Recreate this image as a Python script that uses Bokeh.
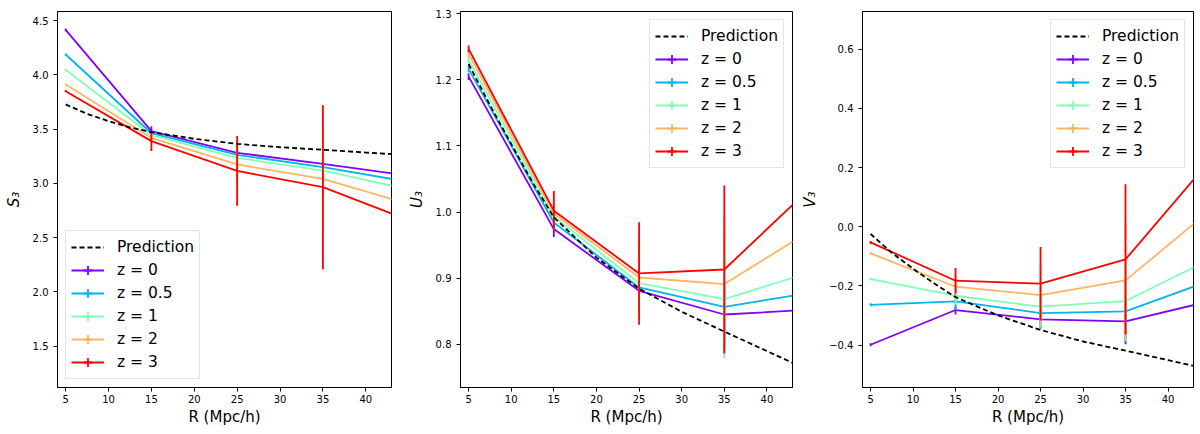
import numpy as np
from bokeh.plotting import figure
from bokeh.layouts import row
from bokeh.models import Range1d, FixedTicker, Legend, LegendItem, ColumnDataSource
from bokeh.embed import file_html
from bokeh.resources import INLINE

# ---------------- data ----------------
R = [5, 15, 25, 35, 45]
z_labels = ["z = 0", "z = 0.5", "z = 1", "z = 2", "z = 3"]
colors = ["#8000ff", "#00b5eb", "#80ffb4", "#ffb461", "#ff0000"]

# S3 (left panel), one list per redshift
S3 = [
    [4.414, 3.481, 3.281, 3.180, 3.071],
    [4.187, 3.462, 3.263, 3.149, 3.014],
    [4.046, 3.444, 3.235, 3.118, 2.944],
    [3.911, 3.420, 3.174, 3.042, 2.810],
    [3.849, 3.389, 3.115, 2.965, 2.662],
]
S3_err = [
    [0.012, 0.045, 0.05, 0.10, 0.15],
    [0.010, 0.020, 0.08, 0.15, 0.25],
    [0.010, 0.020, 0.12, 0.25, 0.35],
    [0.010, 0.030, 0.20, 0.45, 0.60],
    [0.010, 0.090, 0.322, 0.755, 1.00],
]

# U3 (middle panel)
U3 = [
    [1.205, 0.9742, 0.8808, 0.8449, 0.852],
    [1.2167, 0.9842, 0.8858, 0.8565, 0.8776],
    [1.2303, 0.9933, 0.8924, 0.8682, 0.9085],
    [1.2394, 0.9979, 0.9009, 0.8909, 0.9708],
    [1.247, 1.002, 0.9070, 0.9130, 1.035],
]
U3_err = [
    [0.005, 0.012, 0.03, 0.05, 0.10],
    [0.005, 0.010, 0.04, 0.07, 0.12],
    [0.005, 0.010, 0.05, 0.09, 0.15],
    [0.005, 0.015, 0.06, 0.10, 0.20],
    [0.005, 0.030, 0.0775, 0.127, 0.25],
]

# V3 (right panel)
V3 = [
    [-0.399, -0.2816, -0.3134, -0.3202, -0.251],
    [-0.264, -0.2525, -0.2918, -0.2863, -0.182],
    [-0.177, -0.2333, -0.2704, -0.2512, -0.109],
    [-0.090, -0.2028, -0.2310, -0.1815, 0.057],
    [-0.053, -0.1825, -0.1926, -0.1104, 0.2266],
]
V3_err = [
    [0.005, 0.015, 0.03, 0.077, 0.10],
    [0.005, 0.030, 0.053, 0.105, 0.15],
    [0.005, 0.030, 0.07, 0.135, 0.20],
    [0.005, 0.035, 0.10, 0.195, 0.30],
    [0.005, 0.043, 0.124, 0.254, 0.40],
]

# Prediction curves
pred_R = [5, 7.5, 10, 12.5, 15, 20, 25, 30, 35, 40, 45]
S3_pred = [3.727, 3.640, 3.573, 3.515, 3.472, 3.410, 3.364, 3.333, 3.309, 3.284, 3.259]
U3_pred = [1.224, 1.162, 1.103, 1.045, 0.992, 0.931, 0.884, 0.849, 0.819, 0.7895, 0.760]
V3_pred = [-0.0245, -0.088, -0.142, -0.192, -0.238, -0.300, -0.349, -0.388, -0.419, -0.451, -0.483]

# ticks
x_ticks = [5, 10, 15, 20, 25, 30, 35, 40]
S3_ticks = [1.5, 2.0, 2.5, 3.0, 3.5, 4.0, 4.5]
S3_tick_labels = ["1.5", "2.0", "2.5", "3.0", "3.5", "4.0", "4.5"]
U3_ticks = [0.8, 0.9, 1.0, 1.1, 1.2, 1.3]
U3_tick_labels = ["0.8", "0.9", "1.0", "1.1", "1.2", "1.3"]
V3_ticks = [-0.4, -0.2, 0.0, 0.2, 0.4, 0.6]
V3_tick_labels = ["\u22120.4", "\u22120.2", "0.0", "0.2", "0.4", "0.6"]

FONT = "DejaVu Sans"
LW = 1.8


def make_panel(vals, errs, pred, ylabel, yrange, yticks, ylabels, legend_loc,
               width, bl, br):
    p = figure(width=width, height=430, output_backend="svg", toolbar_location=None,
               x_range=Range1d(4.05, 43.0), y_range=Range1d(*yrange),
               min_border_left=bl, min_border_right=br, min_border_top=11,
               min_border_bottom=43, background_fill_color="white",
               border_fill_color="white")
    p.grid.visible = False
    p.outline_line_color = "black"
    p.outline_line_alpha = 1.0
    p.outline_line_width = 1

    for ax in (p.xaxis[0], p.yaxis[0]):
        ax.axis_line_color = "black"
        ax.major_tick_line_color = "black"
        ax.major_tick_in = 0
        ax.major_tick_out = 4
        ax.minor_tick_in = 0
        ax.minor_tick_out = 0
        ax.major_label_text_font = FONT
        ax.major_label_text_font_size = "10px"
        ax.major_label_text_color = "black"
        ax.axis_label_text_font = FONT
        ax.axis_label_text_font_size = "15px"
        ax.axis_label_text_color = "black"

    p.xaxis.ticker = FixedTicker(ticks=x_ticks)
    p.xaxis.axis_label = "R (Mpc/h)"
    p.xaxis.axis_label_text_font_style = "normal"
    p.xaxis.major_label_standoff = 3
    p.xaxis.axis_label_standoff = 2

    p.yaxis.ticker = FixedTicker(ticks=yticks)
    p.yaxis.major_label_overrides = dict(zip(yticks, ylabels))
    p.yaxis.axis_label = ylabel
    p.yaxis.axis_label_text_font_style = "italic"
    p.yaxis.major_label_standoff = 5
    p.yaxis.axis_label_standoff = 7

    items = []
    for k in range(len(vals)):
        c = colors[k]
        lo = [v - e for v, e in zip(vals[k], errs[k])]
        hi = [v + e for v, e in zip(vals[k], errs[k])]
        src = ColumnDataSource(dict(x=R, y=vals[k], lo=lo, hi=hi))
        ln = p.line("x", "y", source=src, line_color=c, line_width=LW)
        p.segment(x0="x", y0="lo", x1="x", y1="hi", source=src,
                  line_color=c, line_width=LW)
        mk = p.scatter(x=[np.nan], y=[np.nan], marker="cross", size=16,
                       line_color=c, line_width=LW)
        items.append(LegendItem(label=z_labels[k], renderers=[ln, mk]))

    pl = p.line(pred_R, pred, line_color="black", line_dash="5 3", line_width=LW)

    legend = Legend(items=[LegendItem(label="Prediction", renderers=[pl])] + items,
                    location=legend_loc)
    legend.label_text_font = FONT
    legend.label_text_font_size = "15.5px"
    legend.label_text_color = "black"
    legend.label_height = 20
    legend.glyph_height = 22
    legend.glyph_width = 33
    legend.label_standoff = 13
    legend.spacing = 1
    legend.padding = 5
    legend.margin = 8
    legend.border_line_color = "#cccccc"
    legend.border_line_width = 1
    legend.background_fill_alpha = 0.8
    p.add_layout(legend)
    return p


p1 = make_panel(S3, S3_err, S3_pred, "S\u2083", (1.12, 4.583), S3_ticks, S3_tick_labels,
                "bottom_left", 404, 57, 13)
p2 = make_panel(U3, U3_err, U3_pred, "U\u2083", (0.7344, 1.3035), U3_ticks, U3_tick_labels,
                "top_right", 394, 54, 6)
p3 = make_panel(V3, V3_err, V3_pred, "V\u2083", (-0.5435, 0.7276), V3_ticks, V3_tick_labels,
                "top_right", 398, 60, 3)

layout = row(p1, p2, p3)
open("out.html", "w").write(file_html(layout, INLINE))
